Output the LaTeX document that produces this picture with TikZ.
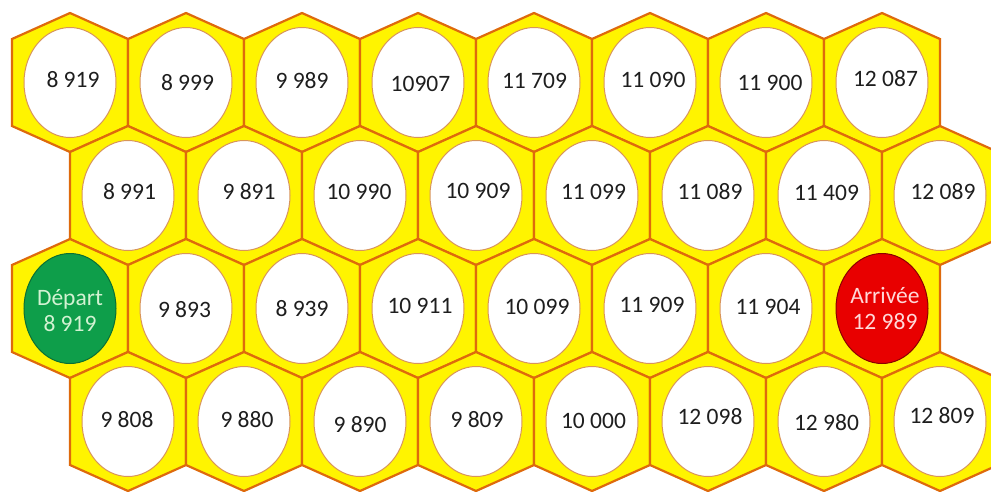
\documentclass[tikz,border=0pt]{standalone}
\usepackage{fontspec}
\setmainfont{Carlito}
\usetikzlibrary{shapes.geometric}
\definecolor{hexfill}{HTML}{FFF400}
\definecolor{hexline}{HTML}{DE6A0C}
\definecolor{ellline}{HTML}{D8955A}
\definecolor{numtext}{HTML}{1E1E1E}
\definecolor{startfill}{HTML}{0E9E4A}
\definecolor{starttext}{HTML}{D2F2D2}
\definecolor{endfill}{HTML}{E80000}
\definecolor{endtext}{HTML}{FFD8D8}
\begin{document}
\begin{tikzpicture}[x=1pt,y=-1pt,
  hexcell/.style={fill=hexfill,draw=hexline,line width=2.2pt,line join=miter},
  cellbox/.style={ellipse,draw=ellline,line width=1pt,fill=white,minimum width=92pt,minimum height=110pt,inner sep=0pt},
  num/.style={font=\fontsize{23.5}{26}\selectfont,text=numtext,inner sep=0pt,align=center}]
\useasboundingbox (0,0) rectangle (991,491);
\clip (0,0) rectangle (991,491);
% hexagons
\foreach \r in {1,...,4}{
  \foreach \k in {0,...,7}{
    \pgfmathsetmacro{\cy}{82.5+113*(\r-1)}
    \pgfmathsetmacro{\cx}{(isodd(\r) ? 70 : 128)+116*\k}
    \draw[hexcell] (\cx,\cy-69.5) -- (\cx+58,\cy-43.5) -- (\cx+58,\cy+43.5) -- (\cx,\cy+69.5) -- (\cx-58,\cy+43.5) -- (\cx-58,\cy-43.5) -- cycle;
  }
}
% row 1
\foreach \k/\t/\dx/\dy in {0/8 919/3/-3, 1/8 999/1.5/0, 2/9 989/0/-2, 3/10907/2.5/1, 4/11 709/0.5/-2, 5/11 090/3/-3, 6/11 900/4/0.5, 7/12 087/3.5/-4}{
  \node[cellbox] (c-1-\k) at (70+116*\k,82.5) {};
  \node[num] (t-1-\k) at ([shift={(\dx,\dy)}]c-1-\k.center) {\t};
}
% row 2
\foreach \k/\t/\dx/\dy in {0/8 991/1.5/-3.5, 1/9 891/5/-4, 2/10 990/-1/-4, 3/10 909/2/-5, 4/11 099/1.5/-4, 5/11 089/2/-4, 6/11 409/2.5/-3, 7/12 089/3/-4}{
  \node[cellbox] (c-2-\k) at (128+116*\k,195.5) {};
  \node[num] (t-2-\k) at ([shift={(\dx,\dy)}]c-2-\k.center) {\t};
}
% row 3
\node[cellbox,fill=startfill,draw=startfill!70!black] (c-3-0) at (70,308.5) {};
\node[num,text=starttext] (t-3-0) at ([shift={(0,2.5)}]c-3-0.center) {Départ\\8 919};
\foreach \k/\t/\dx/\dy in {1/9 893/-1.5/1, 2/8 939/0/0, 3/10 911/2/-3, 4/10 099/3/-1.5, 5/11 909/2/-4, 6/11 904/2/-1.5}{
  \node[cellbox] (c-3-\k) at (70+116*\k,308.5) {};
  \node[num] (t-3-\k) at ([shift={(\dx,\dy)}]c-3-\k.center) {\t};
}
\node[cellbox,fill=endfill,draw=endfill!60!black] (c-3-7) at (882,308.5) {};
\node[num,text=endtext] (t-3-7) at ([shift={(3,0)}]c-3-7.center) {Arrivée\\12 989};
% row 4
\foreach \k/\t/\dx/\dy in {0/9 808/-1/-2, 1/9 880/3/-1.5, 2/9 890/0/3.5, 3/9 809/1/-1.5, 4/10 000/1.5/-0.5, 5/12 098/2/-4.5, 6/12 980/2.5/1.5, 7/12 809/2/-5.5}{
  \node[cellbox] (c-4-\k) at (128+116*\k,421.5) {};
  \node[num] (t-4-\k) at ([shift={(\dx,\dy)}]c-4-\k.center) {\t};
}
\end{tikzpicture}
\end{document}
